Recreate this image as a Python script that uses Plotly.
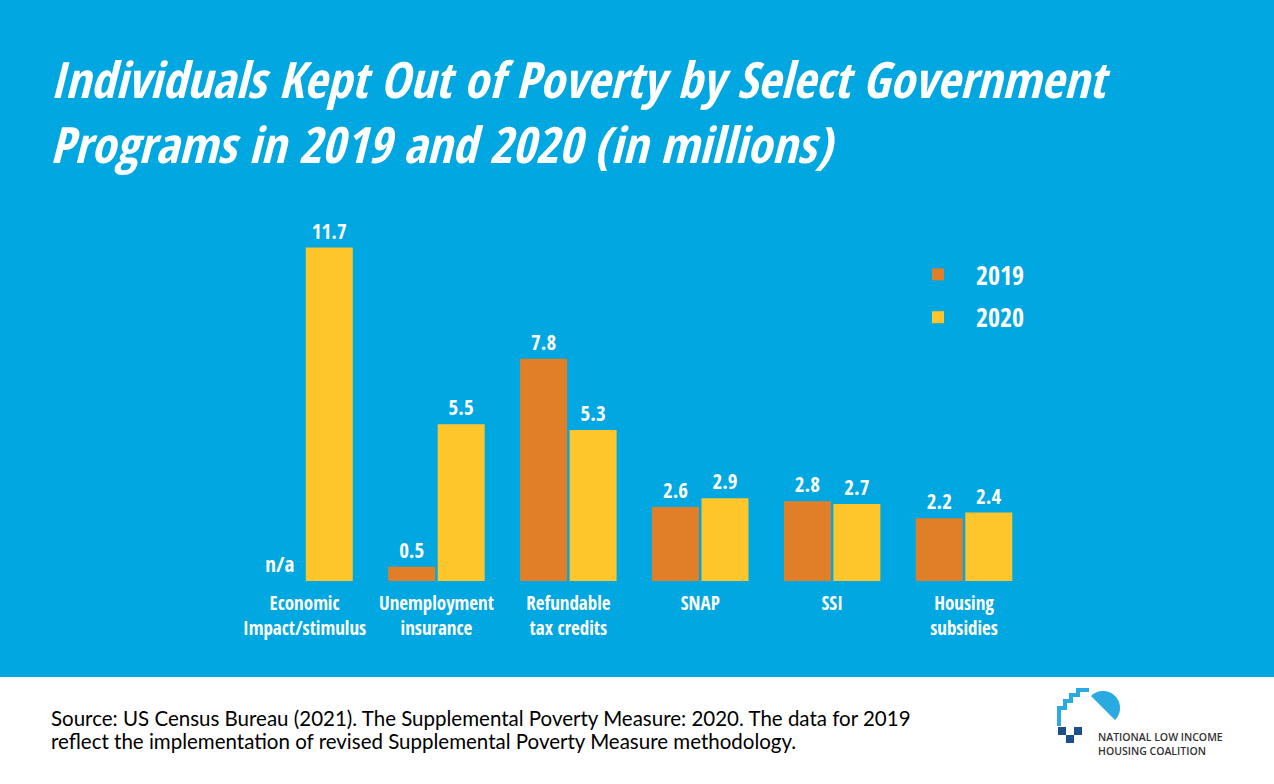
import math
import plotly.graph_objects as go

# ---- data ----
categories = ["Economic<br>Impact/stimulus", "Unemployment<br>insurance", "Refundable<br>tax credits",
              "SNAP", "SSI", "Housing<br>subsidies"]
values_2019 = [None, 0.5, 7.8, 2.6, 2.8, 2.2]
values_2020 = [11.7, 5.5, 5.3, 2.9, 2.7, 2.4]
series_names = ["2019", "2020"]
title_lines = ["Individuals Kept Out of Poverty by Select Government",
               "Programs in 2019 and 2020 (in millions)"]
source_lines = ["Source: US Census Bureau (2021). The Supplemental Poverty Measure: 2020. The data for 2019",
                "reflect the implementation of revised Supplemental Poverty Measure methodology."]

W, H = 1274, 784
BLUE = "#00A7E1"
ORANGE = "#E07F28"
YELLOW = "#FFC62B"
COND = "Open Sans Condensed, Roboto Condensed, DejaVu Sans Condensed, sans-serif"
FOOT = "Lato, Open Sans, sans-serif"


def px(x):
    return x / W


def py(y):
    return 1 - y / H


y19_plot = [0 if v is None else v for v in values_2019]
text19 = ["n/a" if v is None else f"{v:.1f}" for v in values_2019]
text20 = [f"{v:.1f}" for v in values_2020]

fig = go.Figure()
fig.add_trace(go.Bar(x=categories, y=y19_plot, name=series_names[0], marker_color=ORANGE,
                     marker_line_width=0, text=text19, textposition="outside",
                     textfont=dict(color="white", size=21, family=COND), cliponaxis=False,
                     legendgroup="a"))
fig.add_trace(go.Bar(x=categories, y=values_2020, name=series_names[1], marker_color=YELLOW,
                     marker_line_width=0, text=text20, textposition="outside",
                     textfont=dict(color="white", size=21, family=COND), cliponaxis=False,
                     legendgroup="b"))

shapes = [dict(type="rect", xref="paper", yref="paper", x0=0, x1=1, y0=py(677), y1=1,
               fillcolor=BLUE, line_width=0, layer="below")]

# logo (decorative)
stairs = [(1059, 726), (1059, 708), (1065, 708), (1065, 701), (1071, 701), (1071, 695),
          (1078, 695), (1078, 690), (1089, 690)]
path = "M " + " L ".join(f"{px(x):.5f},{py(y):.5f}" for x, y in stairs)
shapes.append(dict(type="path", xref="paper", yref="paper", path=path,
                   line=dict(color="#29ABE2", width=4)))
cx, cy, r = 1103, 708, 17
a0 = math.radians(-135)
pts = []
for i in range(0, 37):
    a = a0 + math.pi * i / 36
    pts.append((cx + r * math.cos(a), cy + r * math.sin(a)))
path2 = "M " + " L ".join(f"{px(x):.5f},{py(y):.5f}" for x, y in pts) + " Z"
shapes.append(dict(type="path", xref="paper", yref="paper", path=path2,
                   fillcolor="#29ABE2", line_width=0))
for (x0, y0) in [(1058, 727), (1066, 735), (1074, 727)]:
    shapes.append(dict(type="rect", xref="paper", yref="paper", x0=px(x0), x1=px(x0 + 8),
                       y0=py(y0 + 8), y1=py(y0), fillcolor="#1B4F8A", line_width=0))

annotations = [
    dict(text="<b><i>" + "<br>".join(title_lines) + "</i></b>",
         xref="paper", yref="paper", x=px(48), y=py(43), xanchor="left", yanchor="top",
         align="left", showarrow=False, font=dict(color="white", size=50, family=COND)),
    dict(text="NATIONAL LOW INCOME<br>HOUSING COALITION",
         xref="paper", yref="paper", x=px(1096), y=py(728), xanchor="left", yanchor="top",
         align="left", showarrow=False,
         font=dict(color="#333333", size=10.5, family="Open Sans, sans-serif", weight=600)),
]
for i, line in enumerate(source_lines):
    annotations.append(dict(text=line, xref="paper", yref="paper", x=px(49), y=py(718 + 23 * i),
                            xanchor="left", yanchor="middle", align="left", showarrow=False,
                            font=dict(color="black", size=20.5, family=FOOT)))

fig.update_layout(
    width=W, height=H,
    margin=dict(l=0, r=0, t=0, b=0),
    paper_bgcolor="white", plot_bgcolor="rgba(0,0,0,0)",
    barmode="group", bargap=0.25, bargroupgap=0.05,
    shapes=shapes, annotations=annotations,
    xaxis=dict(domain=[px(238.6), px(1030)], showgrid=False, showline=False, zeroline=False,
               tickfont=dict(color="white", size=19, family=COND), ticks="", tickangle=0,
               ticklabelstandoff=9, fixedrange=True),
    yaxis=dict(domain=[py(581), py(210.5)], range=[0, 13], visible=False, fixedrange=True),
    legend=dict(x=px(900), y=py(251), xanchor="left", yanchor="top", bgcolor="rgba(0,0,0,0)",
                font=dict(color="white", size=26, family=COND), traceorder="grouped",
                tracegroupgap=6, itemwidth=66),
    showlegend=True,
)

fig.write_html("out.html")
